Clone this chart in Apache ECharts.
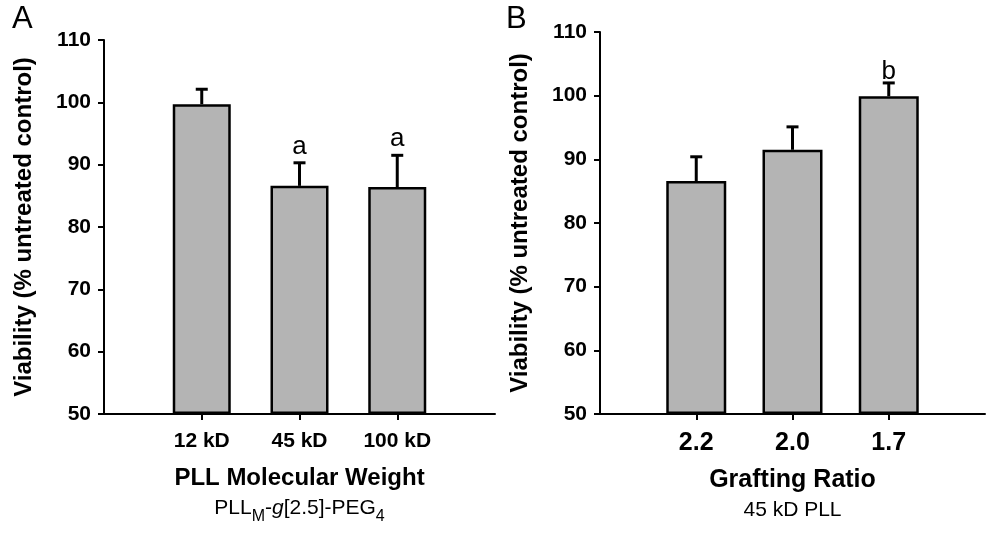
<!DOCTYPE html>
<html>
<head>
<meta charset="utf-8">
<script src="https://cdn.jsdelivr.net/npm/echarts@6/dist/echarts.min.js"></script>
<style>
html,body{margin:0;padding:0;background:#fff;}
#chart{width:988px;height:541px;}
</style>
</head>
<body>
<div id="chart"></div>
<script>
// ---- Data ----
const categoriesA = ['12 kD', '45 kD', '100 kD'];
const valuesA = [99.7, 86.6, 86.4];
const errorsA = [2.4, 3.7, 5.1];
const lettersA = ['', 'a', 'a'];

const categoriesB = ['2.2', '2.0', '1.7'];
const valuesB = [86.6, 91.5, 99.9];
const errorsB = [3.8, 3.6, 2.1];
const lettersB = ['', '', 'b'];

const yTicks = [50, 60, 70, 80, 90, 100, 110];

// ---- Helpers ----
const FONT = 'Liberation Sans, Arial, sans-serif';
function pad(arr) { return [''].concat(arr, ['']); }
function padVals(arr) { return [null].concat(arr, [null]); }
function errData(vals, errs) { return vals.map((v, i) => [i + 1, v, errs[i]]); }

function errRender(letters, capW, letterGap) {
  return function (params, api) {
    const x = api.value(0), v = api.value(1), e = api.value(2);
    const p0 = api.coord([x, v]);
    const p1 = api.coord([x, v + e]);
    const st = { stroke: '#000', lineWidth: 3 };
    const children = [
      { type: 'line', shape: { x1: p0[0], y1: p0[1], x2: p1[0], y2: p1[1] }, style: st },
      { type: 'line', shape: { x1: p1[0] - capW / 2, y1: p1[1], x2: p1[0] + capW / 2, y2: p1[1] }, style: st }
    ];
    const t = letters[params.dataIndex];
    if (t) {
      children.push({
        type: 'text',
        style: { text: t, x: p1[0], y: p1[1] - letterGap, align: 'center', verticalAlign: 'bottom',
                 font: '26px ' + FONT, fill: '#000' }
      });
    }
    return { type: 'group', children: children };
  };
}

function xAxisCfg(gridIndex, cats, labelSize, labelMargin, title, titleSize, subtitleRich, nameGap) {
  return {
    type: 'category', gridIndex: gridIndex, data: pad(cats), boundaryGap: false,
    axisLine: { lineStyle: { color: '#000', width: 2 } },
    axisTick: { length: 6, lineStyle: { color: '#000', width: 2 },
                interval: function (idx) { return idx >= 1 && idx <= cats.length; } },
    axisLabel: { interval: 0, color: '#000', fontWeight: 'bold', fontSize: labelSize, fontFamily: FONT, margin: labelMargin },
    splitLine: { show: false },
    name: '{t|' + title + '}\n' + subtitleRich,
    nameLocation: 'middle', nameGap: nameGap,
    nameTextStyle: {
      color: '#000', fontFamily: FONT,
      rich: {
        t: { fontSize: titleSize, fontWeight: 'bold', fontFamily: FONT, color: '#000', lineHeight: 30 },
        s: { fontSize: 21, fontFamily: FONT, color: '#000', lineHeight: 30, verticalAlign: 'middle' },
        i: { fontSize: 21, fontFamily: FONT, fontStyle: 'italic', color: '#000', lineHeight: 30, verticalAlign: 'middle' },
        sub: { fontSize: 16, fontFamily: FONT, color: '#000', lineHeight: 16, verticalAlign: 'bottom', padding: [0, 0, -2, 0] }
      }
    }
  };
}

function yAxisCfg(gridIndex) {
  return {
    type: 'value', gridIndex: gridIndex, min: yTicks[0], max: yTicks[yTicks.length - 1],
    interval: yTicks[1] - yTicks[0], startValue: yTicks[0],
    axisLine: { show: true, lineStyle: { color: '#000', width: 2 } },
    axisTick: { show: true, length: 6, lineStyle: { color: '#000', width: 2 } },
    axisLabel: { color: '#000', fontWeight: 'bold', fontSize: 21, fontFamily: FONT, margin: 13 },
    splitLine: { show: false },
    name: 'Viability (% untreated control)', nameLocation: 'middle', nameRotate: 90, nameGap: 68,
    nameTextStyle: { color: '#000', fontWeight: 'bold', fontSize: 24, fontFamily: FONT }
  };
}

const barStyle = { color: '#b4b4b4', borderColor: '#000', borderWidth: 2.5 };

const option = {
  backgroundColor: '#fff',
  animation: false,
  grid: [
    { left: 104, top: 40, width: 391, height: 374 },
    { left: 600, top: 32, width: 398, height: 382 }
  ],
  xAxis: [
    xAxisCfg(0, categoriesA, 21, 17, 'PLL Molecular Weight', 24,
      '{s|PLL}{sub|M}{s|-}{i|g}{s|[2.5]-PEG}{sub|4}', 49),
    xAxisCfg(1, categoriesB, 25, 17, 'Grafting Ratio', 25, '{s|45 kD PLL}', 51)
  ],
  yAxis: [yAxisCfg(0), yAxisCfg(1)],
  graphic: [
    { type: 'text', left: 12, top: 4, style: { text: 'A', font: '31px ' + FONT, fill: '#000' } },
    { type: 'text', left: 506, top: 4, style: { text: 'B', font: '31px ' + FONT, fill: '#000' } }
  ],
  series: [
    { type: 'bar', xAxisIndex: 0, yAxisIndex: 0, data: padVals(valuesA), barWidth: 58, itemStyle: barStyle, silent: true },
    { type: 'custom', xAxisIndex: 0, yAxisIndex: 0, data: errData(valuesA, errorsA),
      renderItem: errRender(lettersA, 12, 3), z: 5, silent: true },
    { type: 'bar', xAxisIndex: 1, yAxisIndex: 1, data: padVals(valuesB), barWidth: 60, itemStyle: barStyle, silent: true },
    { type: 'custom', xAxisIndex: 1, yAxisIndex: 1, data: errData(valuesB, errorsB),
      renderItem: errRender(lettersB, 12, -2), z: 5, silent: true }
  ]
};

const chart = echarts.init(document.getElementById('chart'));
chart.setOption(option);
</script>
</body>
</html>
